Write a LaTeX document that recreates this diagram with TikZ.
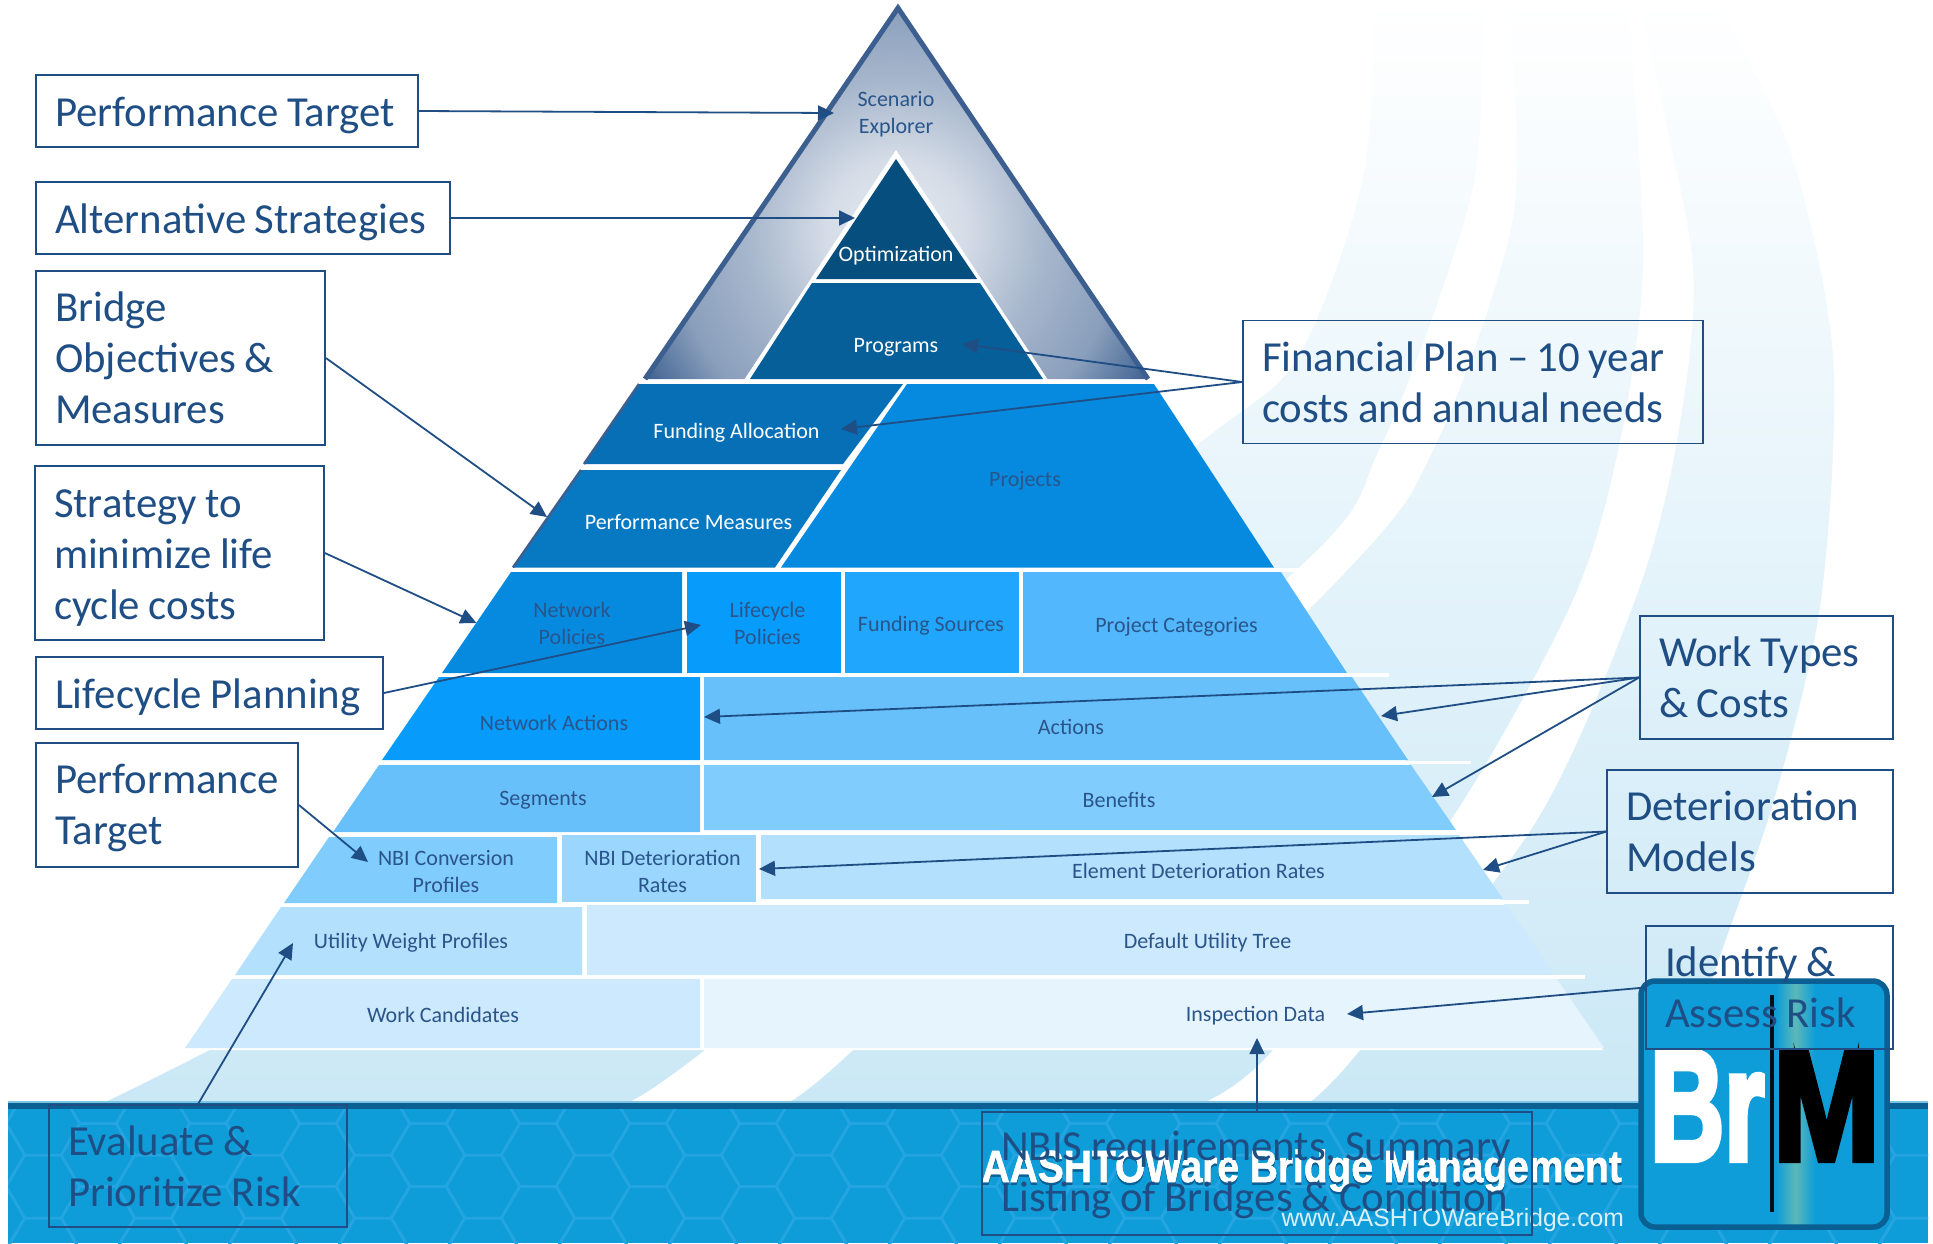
\documentclass[tikz,border=0pt]{standalone}
\usepackage{fontspec}
\setmainfont{Carlito}
\setsansfont{Liberation Sans}
\newfontfamily\logofont[BoldFeatures={FakeBold=4}]{Liberation Sans}
\newfontfamily\bannerfont[BoldFeatures={FakeBold=1.5}]{Liberation Sans}
\usetikzlibrary{arrows.meta}
\definecolor{inkblue}{HTML}{1F4E85}
\definecolor{labelblue}{HTML}{2A558A}
\definecolor{rimblue}{HTML}{3C5F8F}
\definecolor{barblue}{HTML}{0E9DD9}
\definecolor{bardark}{HTML}{0A5F93}
\definecolor{barlight}{HTML}{7CC4E4}
\definecolor{hexblue}{HTML}{24A5E2}
\definecolor{logoteal}{HTML}{5CB8B8}
\definecolor{swoosh}{HTML}{CBE8F6}
\definecolor{swooshmid}{HTML}{ECF7FC}
\definecolor{optimfill}{HTML}{054E7E}
\definecolor{progfill}{HTML}{065F98}
\definecolor{fundfill}{HTML}{066FB5}
\definecolor{measfill}{HTML}{0779C3}
\definecolor{projfill}{HTML}{068AE0}
\definecolor{lifefill}{HTML}{079BFB}
\definecolor{srcfill}{HTML}{20A6FC}
\definecolor{catfill}{HTML}{52B7FC}
\definecolor{actfill}{HTML}{68C0FB}
\definecolor{benfill}{HTML}{80CCFC}
\definecolor{detfill}{HTML}{9AD6FD}
\definecolor{elemfill}{HTML}{B3E0FC}
\definecolor{treefill}{HTML}{CCE9FD}
\definecolor{inspfill}{HTML}{E6F4FE}
\pgfdeclareradialshading{apexglow}{\pgfpointorigin}{color(0bp)=(white!88!rimblue); color(6bp)=(white!78!rimblue); color(12.5bp)=(white!55!rimblue); color(19bp)=(white!40!rimblue); color(25bp)=(rimblue); color(50bp)=(rimblue)}
\newcommand{\shadowed}[1]{\rlap{\raisebox{-2.5pt}{\color{bardark}#1}}#1}
\tikzset{
  notebox/.style 2 args={draw=inkblue,line width=1.8pt,text=inkblue,text width=#1pt-38pt,inner xsep=19pt,inner ysep=0pt,minimum height=#2pt,align=left,font=\fontsize{42.8}{51}\selectfont,execute at begin node={\spaceskip=.2em\relax}},
  lowered/.style={execute at begin node={\spaceskip=.2em\relax\rule{0pt}{#1}}},
  bandlabel/.style={text=labelblue,align=center,inner sep=0pt,font=\fontsize{22}{27}\selectfont},
  whitelabel/.style={bandlabel,text=white},
  pointer/.style={draw=inkblue,line width=1.8pt,-{Triangle[length=16pt,width=15pt]}},
  gapline/.style={white,line width=3.5pt}
}
\begin{document}
\begin{tikzpicture}[x=1pt,y=-1pt]
    \useasboundingbox (0,0) rectangle (1933,1243);
    \shade[top color=white,middle color=swooshmid,bottom color=swoosh] plot[smooth] coordinates {(1375,0) (1363,178) (1298,357) (1196,446) (800,750) (210,1050) (105,1102)} -- (1680,1102) -- plot[smooth] coordinates {(1680,1102) (1713,977) (1774,800) (1821,600) (1833,357) (1790,150) (1714,0)} -- cycle;
    \fill[white] plot[smooth] coordinates {(1482,0) (1482,45) (1470,200) (1381,446) (1280,585) (705,1050) (618,1102)} -- plot[smooth] coordinates {(779,1102) (853,1050) (1333,585) (1435,446) (1512,223) (1512,45) (1505,0)} -- cycle;
    \fill[white] plot[smooth] coordinates {(1625,0) (1631,45) (1643,268) (1619,446) (1573,600) (1451,820) (1273,1050) (1205,1102)} -- plot[smooth] coordinates {(1310,1102) (1360,1050) (1537,820) (1635,600) (1676,446) (1693,268) (1649,45) (1645,0)} -- cycle;
    \begin{scope}
      \clip (898,8) -- (1148,379) -- (645,379) -- cycle;
      \shade[shading=apexglow] (896,230) circle (295);
    \end{scope}
    \draw[rimblue,line width=5pt,line join=miter] (645,379) -- (898,8) -- (1148,379);
    \fill[white] (896,150) -- (1050,383) -- (742,383) -- cycle;
    \fill[white] (645,381) -- (1148,381) -- (1603,1050) -- (185,1050) -- cycle;
    \fill[optimfill] (896,159) -- (977,279) -- (816,279) -- cycle;
    \fill[progfill] (812,283) -- (980,283) -- (1043,379) -- (750,379) -- cycle;
    \fill[fundfill] (639,384) -- (903,384) -- (843,464) -- (584,464) -- cycle;
    \fill[measfill] (581,470) -- (841,470) -- (775,567.5) -- (513,567.5) -- cycle;
    \fill[projfill] (907,384) -- (1154,384) -- (1274,567.5) -- (781,567.5) -- cycle;
    \draw[rimblue,line width=2.5pt] (639,384) -- (584,464) (581,470) -- (513,567.5);
    \fill[projfill] (511,572) -- (682,572) -- (682,673) -- (442,673) -- cycle;
    \fill[lifefill] (687,572) rectangle (841,673);
    \fill[srcfill] (845,572) rectangle (1019,673);
    \fill[catfill] (1023,572) -- (1281,572) -- (1347,673) -- (1023,673) -- cycle;
    \fill[lifefill] (439,677) -- (700,677) -- (700,760) -- (382,760) -- cycle;
    \fill[actfill] (704,677) -- (1352,677) -- (1408,760) -- (704,760) -- cycle;
    \fill[actfill] (379,765) -- (700,765) -- (700,832) -- (333,832) -- cycle;
    \fill[benfill] (704,765) -- (1411,765) -- (1456,830) -- (704,830) -- cycle;
    \fill[benfill] (329,837) -- (557,837) -- (557,903) -- (284,903) -- cycle;
    \fill[detfill] (562,835) rectangle (756,902);
    \fill[elemfill] (761,835) -- (1459,835) -- (1503,899) -- (761,899) -- cycle;
    \fill[elemfill] (281,907) -- (582,907) -- (582,975) -- (235,975) -- cycle;
    \fill[treefill] (587,905) -- (1507,905) -- (1554,975) -- (587,975) -- cycle;
    \fill[treefill] (232,979) -- (700,979) -- (700,1048) -- (185,1048) -- cycle;
    \fill[inspfill] (704,979) -- (1557,979) -- (1604,1048) -- (704,1048) -- cycle;
    \draw[gapline] (1000,570) -- (1298,570);
    \draw[gapline] (1000,675) -- (1389,675);
    \draw[gapline] (1000,762.5) -- (1471,762.5);
    \draw[gapline] (1000,832) -- (1453,832);
    \draw[gapline] (1000,902) -- (1529,902);
    \draw[gapline] (1000,977) -- (1585,977);
    \fill[barblue] (8,1102) rectangle (1928,1243);
    \begin{scope}
      \clip (8,1108) rectangle (1928,1243);
      \foreach \col in {-8,...,27} {
        \pgfmathsetmacro{\hexx}{428+55*\col}
        \pgfmathsetmacro{\hexy}{1155+31.5*mod(abs(\col),2)}
        \foreach \row in {-1,0,1} {
          \draw[hexblue,line width=2.5pt] (\hexx-36.5,\hexy+63*\row) -- (\hexx-18,\hexy+63*\row-31.5) -- (\hexx+18,\hexy+63*\row-31.5) -- (\hexx+36.5,\hexy+63*\row) -- (\hexx+18,\hexy+63*\row+31.5) -- (\hexx-18,\hexy+63*\row+31.5) -- cycle;
        }
      }
    \end{scope}
    \fill[barlight] (8,1101) rectangle (1928,1103);
    \fill[bardark] (8,1103) rectangle (1928,1108.5);
    \fill[barblue,rounded corners=14pt] (1641,981) rectangle (1887,1227);
    \shade[left color=barblue,right color=barblue,middle color=logoteal] (1776,984) rectangle (1815,1224);
    \draw[bardark,line width=5.5pt,rounded corners=14pt] (1641,981) rectangle (1887,1227);
    \draw[black!85!bardark,line width=3.5pt] (1772,995) -- (1772,1212);
    \node[anchor=base west,inner sep=0pt,xscale=0.65,text=white,font=\fontsize{158}{158}\selectfont\logofont\bfseries] (logoBr) at (1650,1160) {Br};
    \node[anchor=base west,inner sep=0pt,xscale=0.81,text=black,font=\fontsize{158}{158}\selectfont\logofont\bfseries] (logoM) at (1773,1160) {M};
    \node[anchor=base east,inner sep=0pt,xscale=0.865,text=white,font=\fontsize{45}{45}\selectfont\bannerfont\bfseries] (bannerName) at (1622,1182) {\shadowed{AASHTOWare Bridge Management}};
    \node[anchor=base east,inner sep=0pt,xscale=0.985,text=white!85!barblue,font=\fontsize{25}{25}\selectfont\sffamily] (bannerWeb) at (1624,1226) {www.AASHTOWareBridge.com};
    \node[bandlabel] (scenario) at (896,114) {Scenario\\Explorer};
    \node[whitelabel] (optimization) at (896,256) {Optimization};
    \node[whitelabel] (programs) at (896,347) {Programs};
    \node[whitelabel] (fundingAlloc) at (736.5,433) {Funding Allocation};
    \node[whitelabel] (perfMeasures) at (688.5,522) {Performance Measures};
    \node[bandlabel] (projects) at (1025,481) {Projects};
    \node[bandlabel] (netPolicies) at (572,623) {Network\\Policies};
    \node[bandlabel] (lifePolicies) at (767.5,623.5) {Lifecycle\\Policies};
    \node[bandlabel] (fundingSrc) at (931,626) {Funding Sources};
    \node[bandlabel] (projectCat) at (1176.5,627) {Project Categories};
    \node[bandlabel] (netActions) at (554,723) {Network Actions};
    \node[bandlabel] (actions) at (1071,727) {Actions};
    \node[bandlabel] (segments) at (543,800) {Segments};
    \node[bandlabel] (benefits) at (1119,800) {Benefits};
    \node[bandlabel] (nbiConv) at (446,871.5) {NBI Conversion\\Profiles};
    \node[bandlabel] (nbiDet) at (662.5,871.5) {NBI Deterioration\\Rates};
    \node[bandlabel] (elementDet) at (1198.5,871) {Element Deterioration Rates};
    \node[bandlabel] (utilityWt) at (411,943) {Utility Weight Profiles};
    \node[bandlabel] (defaultTree) at (1207.5,943) {Default Utility Tree};
    \node[bandlabel] (workCand) at (443,1015) {Work Candidates};
    \node[bandlabel] (inspection) at (1255.5,1016) {Inspection Data};
    \node[notebox={382}{72},lowered=39pt] (perfTarget) at (227,111) {Performance Target};
    \node[notebox={414}{72},lowered=38pt] (altStrat) at (243,218) {Alternative Strategies};
    \node[notebox={289}{174}] (bridgeObj) at (180.5,358) {Bridge\\Objectives \&\\Measures};
    \node[notebox={289}{174},lowered=37pt] (strategy) at (179.5,553) {Strategy to\\minimize life\\cycle costs};
    \node[notebox={347}{72},lowered=38pt] (lifePlan) at (209.5,693) {Lifecycle Planning};
    \node[notebox={262}{124},lowered=36pt] (perfTargetB) at (167,805) {Performance\\Target};
    \node[notebox={298}{122}] (evaluate) at (198,1166) {Evaluate \&\\Prioritize Risk};
    \node[notebox={549.5}{123},lowered=33pt] (nbis) at (1257,1173.5) {\mbox{NBIS requirements, Summary}\\\mbox{Listing of Bridges \& Condition}};
    \node[notebox={460}{123}] (finPlan) at (1473,382) {Financial Plan – 10 year\\costs and annual needs};
    \node[notebox={253}{123}] (workTypes) at (1766.5,677.5) {Work Types\\\& Costs};
    \node[notebox={285.5}{123}] (detModels) at (1750,831.5) {Deterioration\\Models};
    \node[notebox={247}{123}] (identify) at (1769.5,987.5) {Identify \&\\Assess Risk};
    \coordinate (tipScenario) at (834,113);
    \coordinate (tipOptim) at (855,218);
    \coordinate (tipMeasures) at (547,517);
    \coordinate (tipNetPol) at (476.5,623);
    \coordinate (tipLifePol) at (701,625);
    \coordinate (tipConv) at (368,862);
    \coordinate (tipUtility) at (293,943);
    \coordinate (tipPrograms) at (962,344);
    \coordinate (tipFunding) at (841,429);
    \coordinate (tipActionsA) at (704,717);
    \coordinate (tipActionsB) at (1381,716);
    \coordinate (tipBenefits) at (1432,797);
    \coordinate (tipRatesA) at (759,869);
    \coordinate (tipRatesB) at (1483,870);
    \coordinate (tipInspectA) at (1347,1014);
    \coordinate (tipInspectB) at (1257,1038);
    \draw[pointer] (perfTarget.east) -- (tipScenario);
    \draw[pointer] (altStrat.east) -- (tipOptim);
    \draw[pointer] (bridgeObj.east) -- (tipMeasures);
    \draw[pointer] (strategy.east) -- (tipNetPol);
    \draw[pointer] (lifePlan.east) -- (tipLifePol);
    \draw[pointer] (perfTargetB.east) -- (tipConv);
    \draw[pointer] (evaluate.north) -- (tipUtility);
    \draw[pointer] (finPlan.west) -- (tipPrograms);
    \draw[pointer] (finPlan.west) -- (tipFunding);
    \draw[pointer] (workTypes.west) -- (tipActionsA);
    \draw[pointer] (workTypes.west) -- (tipActionsB);
    \draw[pointer] (workTypes.west) -- (tipBenefits);
    \draw[pointer] (detModels.west) -- (tipRatesA);
    \draw[pointer] (detModels.west) -- (tipRatesB);
    \draw[pointer] (identify.west) -- (tipInspectA);
    \draw[pointer] (nbis.north) -- (tipInspectB);
  \end{tikzpicture}
\end{document}
